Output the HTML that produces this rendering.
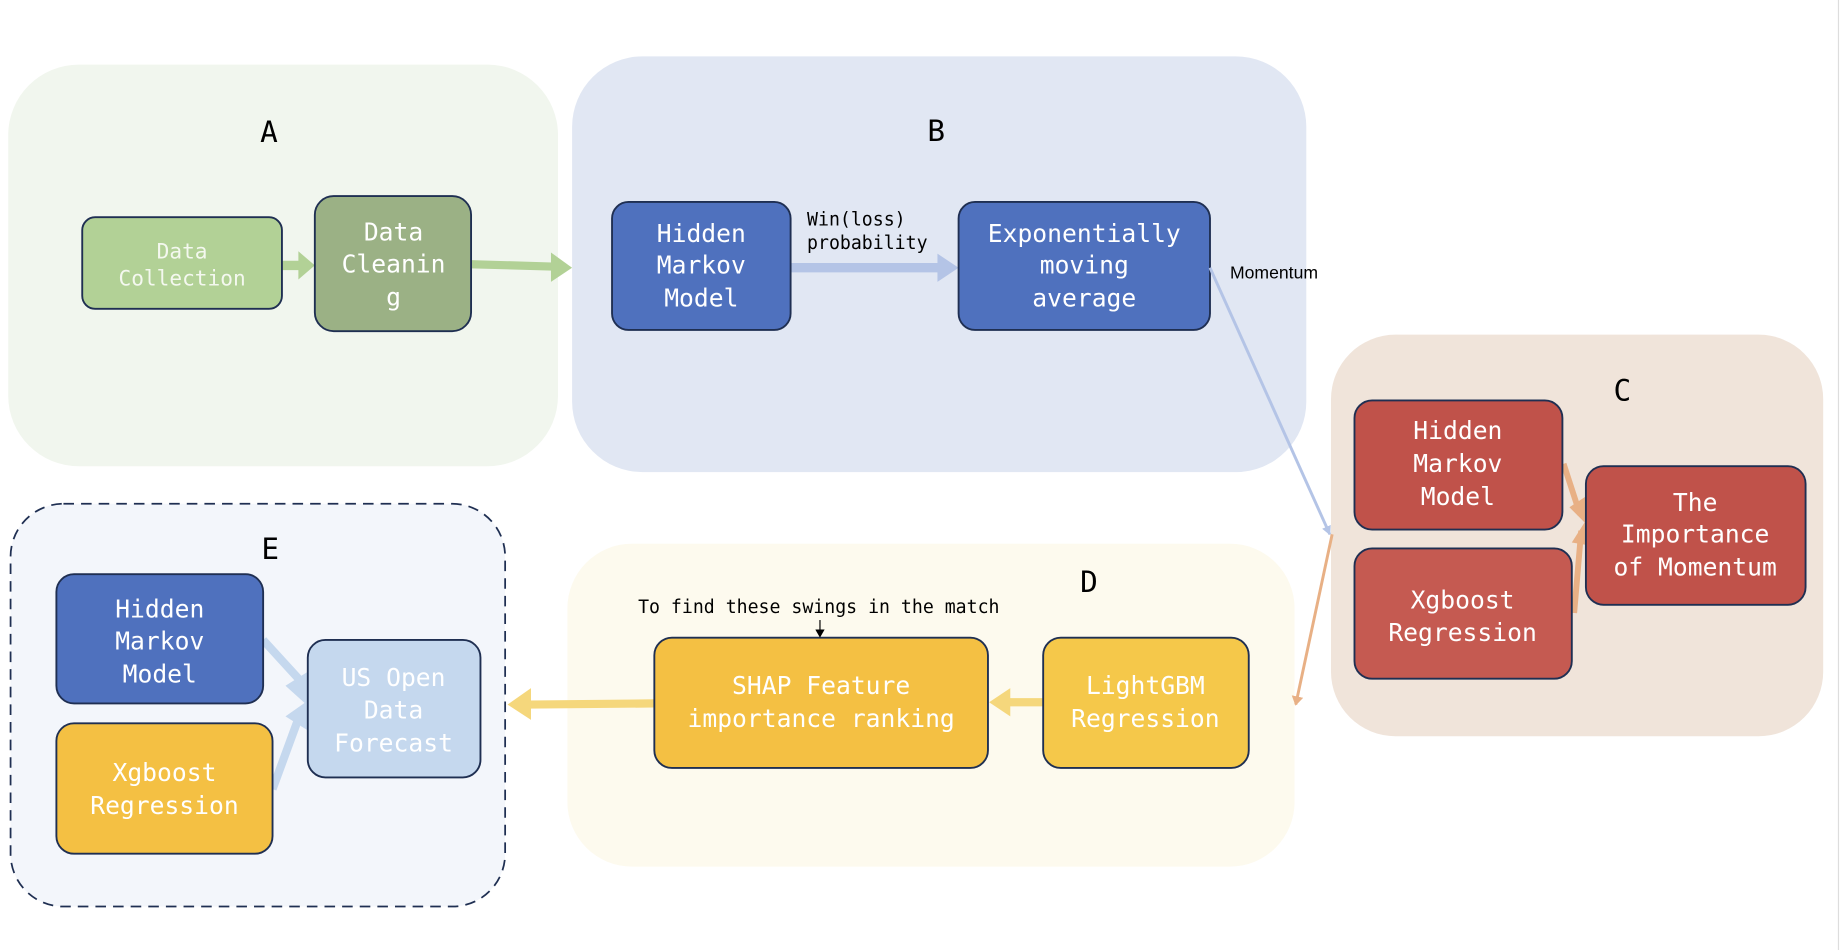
<!DOCTYPE html>
<html><head><meta charset="utf-8"><style>
html,body{margin:0;padding:0;background:#fff;width:1842px;height:950px;overflow:hidden}
svg{display:block}
.m{font-family:"DejaVu Sans Mono","Liberation Mono",monospace}
.t{fill:#fff;font-size:21px;text-anchor:middle}
.l{fill:#000;font-size:25px;text-anchor:middle}
.s{fill:#000;font-size:15.5px}
.b{stroke:#1f2f52;stroke-width:1.6}
</style></head><body>
<svg width="1842" height="950" viewBox="0 0 1568 809" preserveAspectRatio="none" xmlns="http://www.w3.org/2000/svg">
<defs>
<marker id="ah" markerWidth="8" markerHeight="8" refX="7" refY="4" orient="auto" markerUnits="userSpaceOnUse"><path d="M0,0 L8,4 L0,8 z" fill="#b4c4e6"/></marker>
<marker id="ao" markerWidth="8" markerHeight="10" refX="7" refY="5" orient="auto" markerUnits="userSpaceOnUse"><path d="M0,0 L8,5 L0,10 z" fill="#e8b085"/></marker>
<marker id="ak" markerWidth="7" markerHeight="8" refX="6" refY="4" orient="auto" markerUnits="userSpaceOnUse"><path d="M0,0 L7,4 L0,8 z" fill="#000"/></marker>
</defs>
<line x1="1565" y1="0" x2="1565" y2="809" stroke="#ddd" stroke-width="1"/>
<!-- groups -->
<rect x="7" y="55" width="468" height="342" rx="60" fill="#f1f6ee"/>
<rect x="487" y="48" width="625" height="354" rx="60" fill="#e1e7f3"/>
<rect x="1133" y="285" width="419" height="342" rx="55" fill="#f0e4da"/>
<rect x="483" y="463" width="619" height="275" rx="55" fill="#fdfaee"/>
<rect x="9" y="429" width="421" height="343" rx="45" fill="#f3f6fb" stroke="#1f2f52" stroke-width="1.5" stroke-dasharray="9,6"/>
<g class="m">
<text class="l" x="229" y="121">A</text>
<text class="l" x="797" y="120">B</text>
<text class="l" x="1381" y="341">C</text>
<text class="l" x="927" y="504">D</text>
<text class="l" x="230" y="476">E</text>
</g>
<!-- A -->
<line x1="240" y1="226" x2="256" y2="226" stroke="#b2d196" stroke-width="8"/>
<path d="M254,214 L268,226 L254,238 z" fill="#b2d196"/>
<line x1="401" y1="225" x2="470" y2="227" stroke="#b2d196" stroke-width="7"/>
<path d="M469,215 L487,228 L469,240 z" fill="#b2d196"/>
<rect class="b" x="70" y="185" width="170" height="78" rx="11" fill="#b2d196"/>
<rect class="b" x="268" y="167" width="133" height="115" rx="16" fill="#9bb185"/>
<g class="m t">
<text x="155" y="220" style="font-size:18px;fill:#f4f8ef">Data</text>
<text x="155" y="243" style="font-size:18px;fill:#f4f8ef">Collection</text>
<text x="335" y="205">Data</text>
<text x="335" y="232">Cleanin</text>
<text x="335" y="260">g</text>
</g>
<!-- B -->
<line x1="673" y1="228" x2="800" y2="228" stroke="#b4c4e6" stroke-width="8"/>
<path d="M798,216 L816,228 L798,240 z" fill="#b4c4e6"/>
<rect class="b" x="521" y="172" width="152" height="109" rx="14" fill="#4f71be"/>
<rect class="b" x="816" y="172" width="214" height="109" rx="14" fill="#4f71be"/>
<g class="m">
<text class="s" x="687" y="192">Win(loss)</text>
<text class="s" x="687" y="212">probability</text>
</g>
<text x="1047" y="237" style="font-family:'Liberation Sans',sans-serif;font-size:15px">Momentum</text>
<g class="m t">
<text x="597" y="206">Hidden</text>
<text x="597" y="233">Markov</text>
<text x="597" y="261">Model</text>
<text x="923" y="206">Exponentially</text>
<text x="923" y="233">moving</text>
<text x="923" y="261">average</text>
</g>
<line x1="1030" y1="228" x2="1132" y2="455" stroke="#b4c4e6" stroke-width="2.5" marker-end="url(#ah)"/>
<line x1="1134" y1="455" x2="1103" y2="600" stroke="#e8b085" stroke-width="2.5" marker-end="url(#ao)"/>
<!-- C -->
<line x1="1331" y1="395" x2="1345" y2="438" stroke="#e8b085" stroke-width="5"/>
<line x1="1340" y1="522" x2="1346" y2="452" stroke="#e8b085" stroke-width="5"/>
<path d="M1336,432 L1352,448 L1354,420 z" fill="#e8b085"/>
<path d="M1338,462 L1352,440 L1356,465 z" fill="#e8b085"/>
<rect class="b" x="1153" y="341" width="177" height="110" rx="15" fill="#c0524a"/>
<rect class="b" x="1153" y="467" width="185" height="111" rx="15" fill="#c55a51"/>
<rect class="b" x="1350" y="397" width="187" height="118" rx="15" fill="#c0524a"/>
<g class="m t">
<text x="1241" y="374">Hidden</text>
<text x="1241" y="402">Markov</text>
<text x="1241" y="430">Model</text>
<text x="1245" y="518">Xgboost</text>
<text x="1245" y="546">Regression</text>
<text x="1443" y="435">The</text>
<text x="1443" y="462">Importance</text>
<text x="1443" y="490">of Momentum</text>
</g>
<!-- D -->
<line x1="888" y1="598" x2="858" y2="598" stroke="#f5d77c" stroke-width="7"/>
<path d="M860,586 L842,598 L860,610 z" fill="#f5d77c"/>
<line x1="557" y1="599" x2="450" y2="600" stroke="#f5d77c" stroke-width="7"/>
<path d="M452,586 L432,600 L452,613 z" fill="#f5d77c"/>
<rect class="b" x="557" y="543" width="284" height="111" rx="15" fill="#f4c043"/>
<rect class="b" x="888" y="543" width="175" height="111" rx="15" fill="#f5c84a"/>
<text class="m s" x="697" y="522" text-anchor="middle">To find these swings in the match</text>
<line x1="698" y1="528" x2="698" y2="542" stroke="#000" stroke-width="1" marker-end="url(#ak)"/>
<g class="m t">
<text x="699" y="591">SHAP Feature</text>
<text x="699" y="619">importance ranking</text>
<text x="975" y="591">LightGBM</text>
<text x="975" y="619">Regression</text>
</g>
<!-- E -->
<line x1="224" y1="545" x2="256" y2="580" stroke="#c5d8ee" stroke-width="7"/>
<line x1="232" y1="672" x2="254" y2="612" stroke="#c5d8ee" stroke-width="7"/>
<path d="M243,584 L263,602 L262,572 z" fill="#c5d8ee"/>
<path d="M243,610 L263,596 L262,622 z" fill="#c5d8ee"/>
<rect class="b" x="48" y="489" width="176" height="110" rx="15" fill="#4f71be"/>
<rect class="b" x="48" y="616" width="184" height="111" rx="15" fill="#f4c043"/>
<rect class="b" x="262" y="545" width="147" height="117" rx="15" fill="#c5d8ee"/>
<g class="m t">
<text x="136" y="526">Hidden</text>
<text x="136" y="553">Markov</text>
<text x="136" y="581">Model</text>
<text x="140" y="665">Xgboost</text>
<text x="140" y="693">Regression</text>
<text x="335" y="584">US Open</text>
<text x="335" y="612">Data</text>
<text x="335" y="640">Forecast</text>
</g>
</svg>
</body></html>
